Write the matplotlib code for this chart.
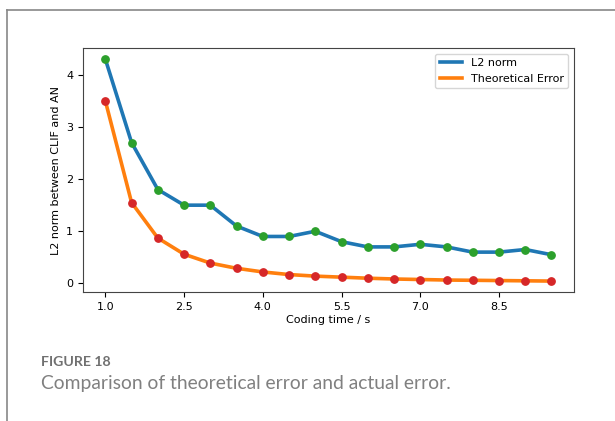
import matplotlib
matplotlib.use("Agg")
from matplotlib import pyplot as plt
from matplotlib.lines import Line2D

# coding time (s)
coding_time = [1.0, 1.5, 2.0, 2.5, 3.0, 3.5, 4.0, 4.5, 5.0,
               5.5, 6.0, 6.5, 7.0, 7.5, 8.0, 8.5, 9.0, 9.5]
# measured L2 norm between CLIF and AN
l2_norm = [4.3, 2.7, 1.8, 1.5, 1.5, 1.1, 0.9, 0.9, 1.0,
           0.8, 0.7, 0.7, 0.75, 0.7, 0.6, 0.6, 0.65, 0.55]
# theoretical error
theory = [3.5, 1.55, 0.87, 0.56, 0.39, 0.29, 0.22, 0.17, 0.14,
          0.12, 0.10, 0.085, 0.075, 0.065, 0.06, 0.055, 0.05, 0.045]
xticks = [1.0, 2.5, 4.0, 5.5, 7.0, 8.5]

fig = plt.figure(figsize=(6.15, 4.21), dpi=100)
ax = fig.add_axes([0.135, 0.306, 0.798, 0.580])

ax.plot(coding_time, l2_norm, color="tab:blue", lw=2.6, label="L2 norm")
ax.plot(coding_time, theory, color="tab:orange", lw=2.6, label="Theoretical Error")
ax.scatter(coding_time, l2_norm, color="tab:green", s=28, zorder=3)
ax.scatter(coding_time, theory, color="tab:red", s=28, zorder=3)

ax.set_xticks(xticks)
ax.tick_params(labelsize=8)
ax.set_xlabel("Coding time / s", fontsize=8, labelpad=2)
ax.set_ylabel("L2 norm between CLIF and AN", fontsize=8)
ax.legend(loc="upper right", fontsize=8)
for s in ax.spines.values():
    s.set_color("#444444")

# page frame of the figure panel
fig.add_artist(Line2D([0.012, 0.012], [0, 0.977], color="#888888", lw=1.2))
fig.add_artist(Line2D([0.012, 1.0], [0.977, 0.977], color="#888888", lw=1.2))

fig.text(0.067, 0.141, "FIGURE 18", fontsize=10.2, fontweight="bold",
         color="#707070", family="Lato", va="center")
fig.text(0.066, 0.090, "Comparison of theoretical error and actual error.",
         fontsize=13.9, color="#808080", family="Lato", va="center")

fig.savefig("out.png", dpi=100)
